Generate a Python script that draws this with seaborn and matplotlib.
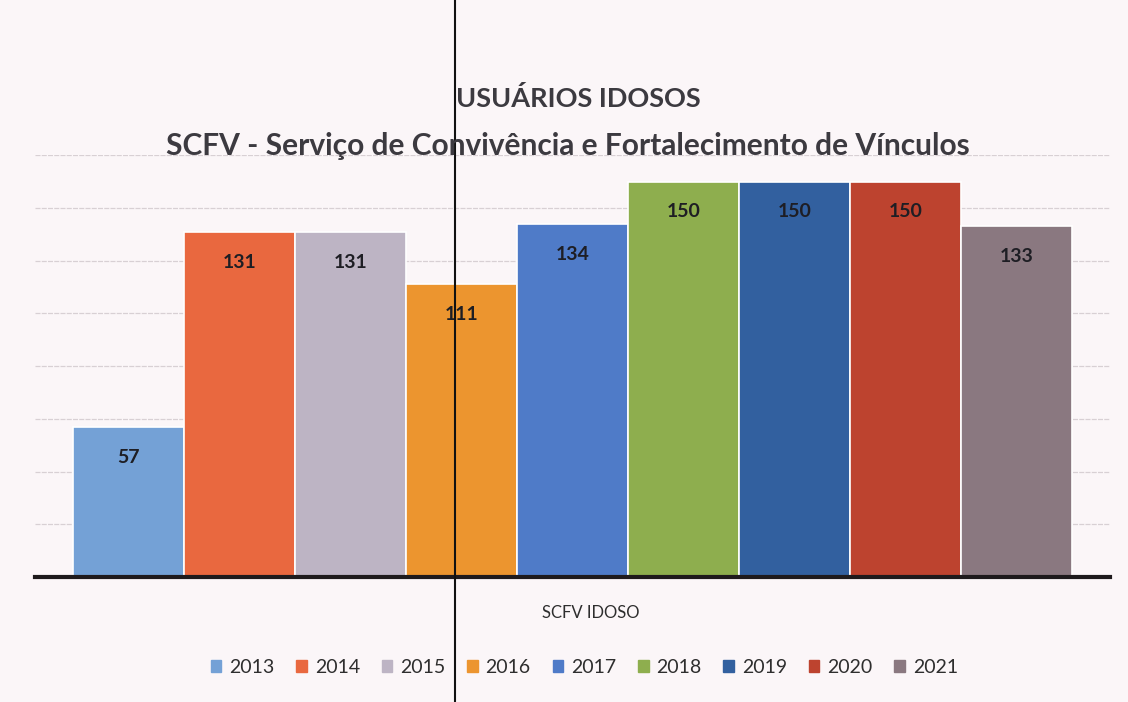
import matplotlib
matplotlib.use("Agg")
import matplotlib.pyplot as plt
import pandas as pd
import seaborn as sns
from matplotlib.lines import Line2D

years = ["2013", "2014", "2015", "2016", "2017", "2018", "2019", "2020", "2021"]
usuarios = [57, 131, 131, 111, 134, 150, 150, 150, 133]
category = "SCFV IDOSO"
colors = ["#74A1D6", "#E9683F", "#BDB4C4", "#EC952F", "#4F7BC8",
          "#8EAE4E", "#32609F", "#BD432F", "#8A7880"]

bg = "#FBF6F8"
sns.set_style("white")
plt.rcParams["font.family"] = ["Lato", "DejaVu Sans"]

df = pd.DataFrame({"Categoria": [category] * len(years), "Ano": years, "Usuarios": usuarios})

fig = plt.figure(figsize=(11.28, 7.02), dpi=100, facecolor=bg)
ax = fig.add_axes([0.031, 0.178, 0.953, 0.601])
ax.set_facecolor(bg)

sns.barplot(
    data=df,
    x="Categoria",
    y="Usuarios",
    hue="Ano",
    palette=colors,
    saturation=1,
    width=0.93,
    gap=0.0,
    edgecolor="white",
    linewidth=1.2,
    legend=False,
    ax=ax,
)

ax.set_ylim(0, 160)
ax.set_xlim(-0.5, 0.5)
ax.set_yticks(range(0, 161, 20))
ax.yaxis.grid(True, color="#D8D0D4", linewidth=0.9, linestyle=(0, (4, 1)))
ax.set_axisbelow(True)
ax.tick_params(axis="both", length=0, labelleft=False, labelbottom=False)
for side in ["top", "right", "left"]:
    ax.spines[side].set_visible(False)
ax.spines["bottom"].set_color("#1E1A1C")
ax.spines["bottom"].set_linewidth(3)
ax.set_xlabel("")
ax.set_ylabel("")

for c in ax.containers:
    ax.bar_label(c, padding=-28, fontsize=14, fontweight="bold", color="#1E1E24")

fig.text(0.513, 0.86, "USUÁRIOS IDOSOS", ha="center", va="center",
         fontsize=19.5, fontweight="bold", color="#3C3A40")
fig.text(0.503, 0.792, "SCFV - Serviço de Convivência e Fortalecimento de Vínculos",
         ha="center", va="center", fontsize=21.5, fontweight="bold", color="#3C3A40")
fig.text(0.524, 0.127, category, ha="center", va="center", fontsize=12, color="#2E2E2E")

handles = [plt.Rectangle((0, 0), 1, 1, color=col) for col in colors]
fig.legend(handles, years, loc="center", bbox_to_anchor=(0.518, 0.049), ncol=9,
           frameon=False, fontsize=14, handlelength=0.55, handleheight=0.55,
           handletextpad=0.4, columnspacing=1.12, labelcolor="#2E2E2E")

# pen line across the scanned page
fig.add_artist(Line2D([0.4035, 0.4035], [0, 1], transform=fig.transFigure,
                      color="#111111", linewidth=1.5))

fig.savefig("out.png", dpi=100, facecolor=bg)
